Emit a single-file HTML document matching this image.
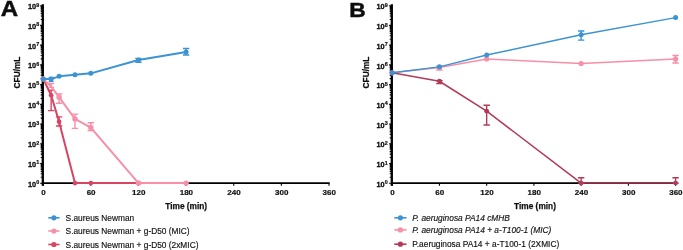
<!DOCTYPE html>
<html><head><meta charset="utf-8"><title>Time-kill curves</title>
<style>
html,body{margin:0;padding:0;background:#fff;}
body{width:683px;height:250px;overflow:hidden;font-family:"Liberation Sans",sans-serif;}
svg{display:block;opacity:0.999;}
text{font-family:"Liberation Sans",sans-serif;fill:#111;}
.tk{font-size:7.3px;font-weight:bold;stroke:#111;stroke-width:0.3px;}
.tkx{font-size:8.0px;font-weight:bold;stroke:#111;stroke-width:0.2px;}
.sup{font-size:5.4px;font-weight:bold;stroke:#111;stroke-width:0.2px;}
.ax{font-size:8.3px;font-weight:bold;stroke:#111;stroke-width:0.25px;}
.lg{font-size:8.35px;stroke:#111;stroke-width:0.15px;}
.pl{font-size:22.3px;font-weight:bold;stroke:#111;stroke-width:0.5px;}
</style></head><body>
<svg width="683" height="250" viewBox="0 0 683 250">
<defs><filter id="bl" x="0" y="0" width="683" height="250" filterUnits="userSpaceOnUse"><feGaussianBlur stdDeviation="0.45"/></filter></defs>
<rect width="683" height="250" fill="#fff"/>
<g filter="url(#bl)">
<path d="M42.80,4.22V185.80" stroke="#000" stroke-width="2.3" fill="none"/>
<path d="M42.30,183.15H329.70" stroke="#000" stroke-width="1.75" fill="none"/>
<path d="M40.10,183.20H43.20M40.70,177.26H43.20M40.70,173.79H43.20M40.70,171.33H43.20M40.70,169.42H43.20M40.70,167.85H43.20M40.70,166.53H43.20M40.70,165.39H43.20M40.70,164.38H43.20M40.10,163.48H43.20M40.70,157.54H43.20M40.70,154.07H43.20M40.70,151.61H43.20M40.70,149.70H43.20M40.70,148.13H43.20M40.70,146.81H43.20M40.70,145.67H43.20M40.70,144.66H43.20M40.10,143.76H43.20M40.70,137.82H43.20M40.70,134.35H43.20M40.70,131.89H43.20M40.70,129.98H43.20M40.70,128.41H43.20M40.70,127.09H43.20M40.70,125.95H43.20M40.70,124.94H43.20M40.10,124.04H43.20M40.70,118.10H43.20M40.70,114.63H43.20M40.70,112.17H43.20M40.70,110.26H43.20M40.70,108.69H43.20M40.70,107.37H43.20M40.70,106.23H43.20M40.70,105.22H43.20M40.10,104.32H43.20M40.70,98.38H43.20M40.70,94.91H43.20M40.70,92.45H43.20M40.70,90.54H43.20M40.70,88.97H43.20M40.70,87.65H43.20M40.70,86.51H43.20M40.70,85.50H43.20M40.10,84.60H43.20M40.70,78.66H43.20M40.70,75.19H43.20M40.70,72.73H43.20M40.70,70.82H43.20M40.70,69.25H43.20M40.70,67.93H43.20M40.70,66.79H43.20M40.70,65.78H43.20M40.10,64.88H43.20M40.70,58.94H43.20M40.70,55.47H43.20M40.70,53.01H43.20M40.70,51.10H43.20M40.70,49.53H43.20M40.70,48.21H43.20M40.70,47.07H43.20M40.70,46.06H43.20M40.10,45.16H43.20M40.70,39.22H43.20M40.70,35.75H43.20M40.70,33.29H43.20M40.70,31.38H43.20M40.70,29.81H43.20M40.70,28.49H43.20M40.70,27.35H43.20M40.70,26.34H43.20M40.10,25.44H43.20M40.70,19.50H43.20M40.70,16.03H43.20M40.70,13.57H43.20M40.70,11.66H43.20M40.70,10.09H43.20M40.70,8.77H43.20M40.70,7.63H43.20M40.70,6.62H43.20M40.10,5.72H43.20" stroke="#000" stroke-width="1.15" fill="none"/>
<path d="M43.20,183.20V185.80M90.83,183.20V185.80M138.47,183.20V185.80M186.10,183.20V185.80M233.73,183.20V185.80M281.37,183.20V185.80M329.00,183.20V185.80" stroke="#000" stroke-width="1.1" fill="none"/>
<text x="36.20" y="186.60" text-anchor="end" class="tk">10</text>
<text x="36.30" y="184.00" text-anchor="start" class="sup">0</text>
<text x="36.20" y="166.88" text-anchor="end" class="tk">10</text>
<text x="36.30" y="164.28" text-anchor="start" class="sup">1</text>
<text x="36.20" y="147.16" text-anchor="end" class="tk">10</text>
<text x="36.30" y="144.56" text-anchor="start" class="sup">2</text>
<text x="36.20" y="127.44" text-anchor="end" class="tk">10</text>
<text x="36.30" y="124.84" text-anchor="start" class="sup">3</text>
<text x="36.20" y="107.72" text-anchor="end" class="tk">10</text>
<text x="36.30" y="105.12" text-anchor="start" class="sup">4</text>
<text x="36.20" y="88.00" text-anchor="end" class="tk">10</text>
<text x="36.30" y="85.40" text-anchor="start" class="sup">5</text>
<text x="36.20" y="68.28" text-anchor="end" class="tk">10</text>
<text x="36.30" y="65.68" text-anchor="start" class="sup">6</text>
<text x="36.20" y="48.56" text-anchor="end" class="tk">10</text>
<text x="36.30" y="45.96" text-anchor="start" class="sup">7</text>
<text x="36.20" y="28.84" text-anchor="end" class="tk">10</text>
<text x="36.30" y="26.24" text-anchor="start" class="sup">8</text>
<text x="36.20" y="9.12" text-anchor="end" class="tk">10</text>
<text x="36.30" y="6.52" text-anchor="start" class="sup">9</text>
<text x="43.50" y="195.40" text-anchor="middle" class="tkx">0</text>
<text x="91.13" y="195.40" text-anchor="middle" class="tkx">60</text>
<text x="138.77" y="195.40" text-anchor="middle" class="tkx">120</text>
<text x="186.40" y="195.40" text-anchor="middle" class="tkx">180</text>
<text x="234.03" y="195.40" text-anchor="middle" class="tkx">240</text>
<text x="281.67" y="195.40" text-anchor="middle" class="tkx">300</text>
<text x="329.30" y="195.40" text-anchor="middle" class="tkx">360</text>
<path d="M43.20,78.89 L51.14,95.24 L59.08,121.64 L74.96,183.10 L90.83,183.10 L138.47,183.10" fill="none" stroke="#d64562" stroke-width="2.0" stroke-linejoin="round"/>
<circle cx="43.20" cy="78.89" r="2.35" fill="#d64562"/>
<path d="M51.14,110.60V90.12M47.94,110.60H54.34M47.94,90.12H54.34" stroke="#d64562" stroke-width="1.4" fill="none"/>
<circle cx="51.14" cy="95.24" r="2.35" fill="#d64562"/>
<path d="M59.08,125.97V116.91M55.88,125.97H62.28M55.88,116.91H62.28" stroke="#d64562" stroke-width="1.4" fill="none"/>
<circle cx="59.08" cy="121.64" r="2.35" fill="#d64562"/>
<circle cx="74.96" cy="183.10" r="2.35" fill="#d64562"/>
<circle cx="90.83" cy="183.10" r="2.35" fill="#d64562"/>
<circle cx="138.47" cy="183.10" r="2.35" fill="#d64562"/>
<path d="M43.20,78.89 L51.14,86.57 L59.08,97.21 L74.96,118.88 L90.83,127.55 L138.47,183.10 L186.10,183.10" fill="none" stroke="#f78fa7" stroke-width="2.0" stroke-linejoin="round"/>
<circle cx="43.20" cy="78.89" r="2.7" fill="#f78fa7"/>
<path d="M51.14,87.36V83.61M48.14,87.36H54.14M48.14,83.61H54.14" stroke="#f78fa7" stroke-width="1.4" fill="none"/>
<path d="M59.08,103.31V94.06M55.88,103.31H62.28M55.88,94.06H62.28" stroke="#f78fa7" stroke-width="1.4" fill="none"/>
<circle cx="59.08" cy="97.21" r="2.7" fill="#f78fa7"/>
<path d="M74.96,128.33V114.15M71.76,128.33H78.16M71.76,114.15H78.16" stroke="#f78fa7" stroke-width="1.4" fill="none"/>
<circle cx="74.96" cy="118.88" r="2.7" fill="#f78fa7"/>
<path d="M90.83,130.50V122.82M87.63,130.50H94.03M87.63,122.82H94.03" stroke="#f78fa7" stroke-width="1.4" fill="none"/>
<circle cx="90.83" cy="127.55" r="2.7" fill="#f78fa7"/>
<circle cx="138.47" cy="183.10" r="2.7" fill="#f78fa7"/>
<circle cx="186.10" cy="183.10" r="2.7" fill="#f78fa7"/>
<path d="M43.20,78.89 L51.14,79.08 L59.08,76.33 L74.96,74.75 L90.83,73.37 L138.47,59.97 L186.10,52.09" fill="none" stroke="#3b93d3" stroke-width="2.0" stroke-linejoin="round"/>
<circle cx="43.20" cy="78.89" r="2.5" fill="#3b93d3"/>
<path d="M51.14,81.64V77.51M48.64,81.64H53.64M48.64,77.51H53.64" stroke="#3b93d3" stroke-width="1.4" fill="none"/>
<circle cx="51.14" cy="79.08" r="2.5" fill="#3b93d3"/>
<circle cx="59.08" cy="76.33" r="2.5" fill="#3b93d3"/>
<circle cx="74.96" cy="74.75" r="2.5" fill="#3b93d3"/>
<circle cx="90.83" cy="73.37" r="2.5" fill="#3b93d3"/>
<path d="M138.47,62.34V58.40M135.27,62.34H141.67M135.27,58.40H141.67" stroke="#3b93d3" stroke-width="1.4" fill="none"/>
<circle cx="138.47" cy="59.97" r="2.5" fill="#3b93d3"/>
<path d="M186.10,55.05V48.55M182.90,55.05H189.30M182.90,48.55H189.30" stroke="#3b93d3" stroke-width="1.4" fill="none"/>
<circle cx="186.10" cy="52.09" r="2.5" fill="#3b93d3"/>
<path d="M391.80,4.22V185.80" stroke="#000" stroke-width="2.3" fill="none"/>
<path d="M391.30,183.15H676.30" stroke="#000" stroke-width="1.75" fill="none"/>
<path d="M389.10,183.20H392.20M389.70,177.26H392.20M389.70,173.79H392.20M389.70,171.33H392.20M389.70,169.42H392.20M389.70,167.85H392.20M389.70,166.53H392.20M389.70,165.39H392.20M389.70,164.38H392.20M389.10,163.48H392.20M389.70,157.54H392.20M389.70,154.07H392.20M389.70,151.61H392.20M389.70,149.70H392.20M389.70,148.13H392.20M389.70,146.81H392.20M389.70,145.67H392.20M389.70,144.66H392.20M389.10,143.76H392.20M389.70,137.82H392.20M389.70,134.35H392.20M389.70,131.89H392.20M389.70,129.98H392.20M389.70,128.41H392.20M389.70,127.09H392.20M389.70,125.95H392.20M389.70,124.94H392.20M389.10,124.04H392.20M389.70,118.10H392.20M389.70,114.63H392.20M389.70,112.17H392.20M389.70,110.26H392.20M389.70,108.69H392.20M389.70,107.37H392.20M389.70,106.23H392.20M389.70,105.22H392.20M389.10,104.32H392.20M389.70,98.38H392.20M389.70,94.91H392.20M389.70,92.45H392.20M389.70,90.54H392.20M389.70,88.97H392.20M389.70,87.65H392.20M389.70,86.51H392.20M389.70,85.50H392.20M389.10,84.60H392.20M389.70,78.66H392.20M389.70,75.19H392.20M389.70,72.73H392.20M389.70,70.82H392.20M389.70,69.25H392.20M389.70,67.93H392.20M389.70,66.79H392.20M389.70,65.78H392.20M389.10,64.88H392.20M389.70,58.94H392.20M389.70,55.47H392.20M389.70,53.01H392.20M389.70,51.10H392.20M389.70,49.53H392.20M389.70,48.21H392.20M389.70,47.07H392.20M389.70,46.06H392.20M389.10,45.16H392.20M389.70,39.22H392.20M389.70,35.75H392.20M389.70,33.29H392.20M389.70,31.38H392.20M389.70,29.81H392.20M389.70,28.49H392.20M389.70,27.35H392.20M389.70,26.34H392.20M389.10,25.44H392.20M389.70,19.50H392.20M389.70,16.03H392.20M389.70,13.57H392.20M389.70,11.66H392.20M389.70,10.09H392.20M389.70,8.77H392.20M389.70,7.63H392.20M389.70,6.62H392.20M389.10,5.72H392.20" stroke="#000" stroke-width="1.15" fill="none"/>
<path d="M392.20,183.20V185.80M439.43,183.20V185.80M486.67,183.20V185.80M533.90,183.20V185.80M581.13,183.20V185.80M628.37,183.20V185.80M675.60,183.20V185.80" stroke="#000" stroke-width="1.1" fill="none"/>
<text x="384.60" y="186.90" text-anchor="end" class="tk">10</text>
<text x="384.70" y="184.30" text-anchor="start" class="sup">0</text>
<text x="384.60" y="167.18" text-anchor="end" class="tk">10</text>
<text x="384.70" y="164.58" text-anchor="start" class="sup">1</text>
<text x="384.60" y="147.46" text-anchor="end" class="tk">10</text>
<text x="384.70" y="144.86" text-anchor="start" class="sup">2</text>
<text x="384.60" y="127.74" text-anchor="end" class="tk">10</text>
<text x="384.70" y="125.14" text-anchor="start" class="sup">3</text>
<text x="384.60" y="108.02" text-anchor="end" class="tk">10</text>
<text x="384.70" y="105.42" text-anchor="start" class="sup">4</text>
<text x="384.60" y="88.30" text-anchor="end" class="tk">10</text>
<text x="384.70" y="85.70" text-anchor="start" class="sup">5</text>
<text x="384.60" y="68.58" text-anchor="end" class="tk">10</text>
<text x="384.70" y="65.98" text-anchor="start" class="sup">6</text>
<text x="384.60" y="48.86" text-anchor="end" class="tk">10</text>
<text x="384.70" y="46.26" text-anchor="start" class="sup">7</text>
<text x="384.60" y="29.14" text-anchor="end" class="tk">10</text>
<text x="384.70" y="26.54" text-anchor="start" class="sup">8</text>
<text x="384.60" y="9.42" text-anchor="end" class="tk">10</text>
<text x="384.70" y="6.82" text-anchor="start" class="sup">9</text>
<text x="392.50" y="195.40" text-anchor="middle" class="tkx">0</text>
<text x="439.73" y="195.40" text-anchor="middle" class="tkx">60</text>
<text x="486.97" y="195.40" text-anchor="middle" class="tkx">120</text>
<text x="534.20" y="195.40" text-anchor="middle" class="tkx">180</text>
<text x="581.43" y="195.40" text-anchor="middle" class="tkx">240</text>
<text x="628.67" y="195.40" text-anchor="middle" class="tkx">300</text>
<text x="675.90" y="195.40" text-anchor="middle" class="tkx">360</text>
<path d="M392.20,72.78 L439.43,67.46 L486.67,58.99 L581.13,63.52 L675.60,58.99" fill="none" stroke="#f78fa7" stroke-width="1.5" stroke-linejoin="round"/>
<circle cx="392.20" cy="72.78" r="2.6" fill="#f78fa7"/>
<path d="M439.43,70.02V65.88M436.23,70.02H442.63M436.23,65.88H442.63" stroke="#f78fa7" stroke-width="1.4" fill="none"/>
<circle cx="439.43" cy="67.46" r="2.6" fill="#f78fa7"/>
<circle cx="486.67" cy="58.99" r="2.6" fill="#f78fa7"/>
<circle cx="581.13" cy="63.52" r="2.6" fill="#f78fa7"/>
<path d="M675.60,62.93V55.44M672.40,62.93H678.80M672.40,55.44H678.80" stroke="#f78fa7" stroke-width="1.4" fill="none"/>
<circle cx="675.60" cy="58.99" r="2.6" fill="#f78fa7"/>
<path d="M392.20,72.78 L439.43,81.25 L486.67,111.19 L581.13,183.10 L675.60,183.10" fill="none" stroke="#b23a58" stroke-width="1.5" stroke-linejoin="round"/>
<circle cx="392.20" cy="72.78" r="2.4" fill="#b23a58"/>
<path d="M439.43,83.61V80.66M436.23,83.61H442.63M436.23,80.66H442.63" stroke="#b23a58" stroke-width="1.4" fill="none"/>
<circle cx="439.43" cy="81.25" r="2.4" fill="#b23a58"/>
<path d="M486.67,124.98V105.28M483.47,124.98H489.87M483.47,105.28H489.87" stroke="#b23a58" stroke-width="1.4" fill="none"/>
<circle cx="486.67" cy="111.19" r="2.4" fill="#b23a58"/>
<path d="M581.13,183.10V177.78M577.93,183.10H584.33M577.93,177.78H584.33" stroke="#b23a58" stroke-width="1.4" fill="none"/>
<circle cx="581.13" cy="183.10" r="2.4" fill="#b23a58"/>
<path d="M675.60,183.10V177.78M672.40,183.10H678.80M672.40,177.78H678.80" stroke="#b23a58" stroke-width="1.4" fill="none"/>
<circle cx="675.60" cy="183.10" r="2.4" fill="#b23a58"/>
<path d="M392.20,72.78 L439.43,66.87 L486.67,55.05 L581.13,34.76 L675.60,17.62" fill="none" stroke="#3b93d3" stroke-width="1.5" stroke-linejoin="round"/>
<circle cx="392.20" cy="72.78" r="2.5" fill="#3b93d3"/>
<circle cx="439.43" cy="66.87" r="2.5" fill="#3b93d3"/>
<circle cx="486.67" cy="55.05" r="2.5" fill="#3b93d3"/>
<path d="M581.13,40.08V31.02M577.93,40.08H584.33M577.93,31.02H584.33" stroke="#3b93d3" stroke-width="1.4" fill="none"/>
<circle cx="581.13" cy="34.76" r="2.5" fill="#3b93d3"/>
<circle cx="675.60" cy="17.62" r="2.5" fill="#3b93d3"/>
<text transform="translate(0.7,16.3) scale(1.08,1)" class="pl">A</text>
<text transform="translate(349.2,16.9) scale(1.08,1)" class="pl" style="font-size:21.1px">B</text>
<text transform="translate(19.6,72.5) rotate(-90)" text-anchor="middle" class="ax">CFU/mL</text>
<text transform="translate(369.1,72.5) rotate(-90)" text-anchor="middle" class="ax">CFU/mL</text>
<text x="186.2" y="208.9" text-anchor="middle" class="ax">Time (min)</text>
<text x="535" y="208.9" text-anchor="middle" class="ax">Time (min)</text>
<path d="M48.30,217.80H59.50" stroke="#3b93d3" stroke-width="1.6"/>
<circle cx="53.90" cy="217.80" r="2.6" fill="#3b93d3"/>
<text x="65.60" y="220.80" class="lg">S.aureus Newman</text>
<path d="M48.30,231.00H59.50" stroke="#f78fa7" stroke-width="1.6"/>
<circle cx="53.90" cy="231.00" r="2.6" fill="#f78fa7"/>
<text x="65.60" y="234.00" class="lg">S.aureus Newman + g-D50 (MIC)</text>
<path d="M48.30,244.50H59.50" stroke="#d64562" stroke-width="1.6"/>
<circle cx="53.90" cy="244.50" r="2.6" fill="#d64562"/>
<text x="65.60" y="247.50" class="lg">S.aureus Newman + g-D50 (2xMIC)</text>
<path d="M394.30,217.80H406.50" stroke="#3b93d3" stroke-width="1.6"/>
<circle cx="400.40" cy="217.80" r="2.6" fill="#3b93d3"/>
<text x="412.30" y="220.80" class="lg" font-style="italic">P. aeruginosa PA14 cMHB</text>
<path d="M394.30,229.90H406.50" stroke="#f78fa7" stroke-width="1.6"/>
<circle cx="400.40" cy="229.90" r="2.6" fill="#f78fa7"/>
<text x="412.30" y="232.90" class="lg" font-style="italic">P. aeruginosa PA14 + a-T100-1 (MIC)</text>
<path d="M394.30,244.20H406.50" stroke="#b23a58" stroke-width="1.6"/>
<circle cx="400.40" cy="244.20" r="2.6" fill="#b23a58"/>
<text x="412.30" y="247.20" class="lg">P.aeruginosa PA14 + a-T100-1 (2XMIC)</text>
</g>
</svg>
</body></html>
